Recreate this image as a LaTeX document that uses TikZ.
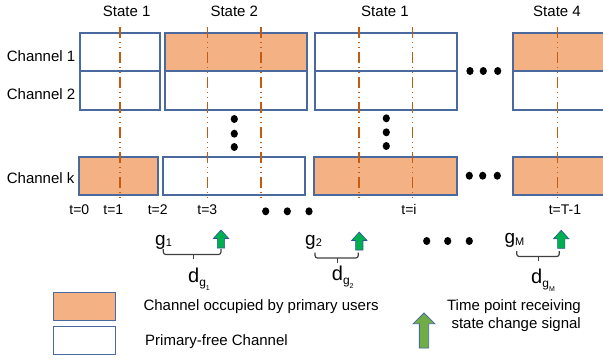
\documentclass[tikz,border=0pt]{standalone}
\usepackage{fontspec}
\setmainfont{Liberation Sans}
\usetikzlibrary{calc}
\definecolor{orangefill}{HTML}{F4B183}
\definecolor{cellframe}{HTML}{4A6A9F}
\definecolor{tickline}{HTML}{C55A11}
\definecolor{siggreen}{HTML}{00B050}
\definecolor{legreen}{HTML}{70AD47}
\definecolor{sigblue}{HTML}{2F5597}
\newcommand{\gsym}[1]{{\fontsize{19}{19}\selectfont g}\raisebox{-1.5pt}{\fontsize{11}{11}\selectfont #1}}
\newcommand{\dsym}[1]{{\fontsize{20}{20}\selectfont d}\raisebox{-4pt}{\fontsize{12}{12}\selectfont g\raisebox{-4pt}{\fontsize{7}{7}\selectfont #1}}}

\begin{document}
\begin{tikzpicture}[x=1pt,y=-1pt,
  cell/.style={draw=cellframe,line width=1.3pt},
  busy/.style={cell,fill=orangefill},
  stateline/.style={draw=tickline,line width=1.1pt,dash pattern=on 11pt off 4pt on 1pt off 4pt on 1pt off 4pt},
  lbl/.style={font=\fontsize{14}{17.5}\selectfont,inner sep=0pt},
  biglbl/.style={font=\fontsize{15}{17.5}\selectfont,inner sep=0pt},
  sym/.style={inner sep=0pt},
  brc/.style={draw=black!75,line width=1.2pt},
  pics/sigarrow/.style n args={4}{code={%
    \draw[pic actions] (-#3/2,0) -- (-#3/2,-#1+#4) -- (-#2/2,-#1+#4) -- (0,-#1)
      -- (#2/2,-#1+#4) -- (#3/2,-#1+#4) -- (#3/2,0) -- cycle;}}]
  \clip (0,0) rectangle (603,360);

  % channel blocks
  \draw[cell] (80,33) rectangle (160,71);
  \draw[cell] (80,71) rectangle (160,110);
  \draw[busy] (79,157) rectangle (158,195);
  \draw[busy] (165,33) rectangle (307,71);
  \draw[cell] (165,71) rectangle (307,110);
  \draw[cell] (163,157) rectangle (305,195);
  \draw[cell] (315,33) rectangle (457,71);
  \draw[cell] (315,71) rectangle (457,110);
  \draw[busy] (314,157) rectangle (457,195);
  \draw[busy] (513,33) rectangle (610,71);
  \draw[cell] (513,71) rectangle (610,110);
  \draw[busy] (513,157) rectangle (610,195);

  % state change lines
  \foreach \x in {120,207.7,261,359,412.3,557.7}
    \draw[stateline] (\x,27) -- (\x,199);

  % ellipsis dots
  \foreach \x/\y in {234.3/119,234.3/133.7,234.3/147,386.3/118.3,386.3/132.3,386.3/146,
      470/71,483.3/71,497.7/71,469.3/175.7,482.7/175.7,497.3/175.7,
      265.7/211.3,287.3/211.3,309/211.3,426.7/241,447.7/241,469.3/241}
    \fill (\x,\y) ellipse (3.6 and 4);

  \node[biglbl] (st1) at (126.7,11) {State 1};
  \node[biglbl] (st2) at (234.3,11) {State 2};
  \node[biglbl] (st3) at (385,11) {State 1};
  \node[biglbl] (st4) at (557,11) {State 4};

  \node[biglbl,anchor=base west] (ch1) at (6.7,61.7) {Channel 1};
  \node[biglbl,anchor=base west] (ch2) at (6.7,99.3) {Channel 2};
  \node[biglbl,anchor=base west] (chk) at (6.7,183.3) {Channel k};

  \node[lbl,anchor=base] (t0) at (79.3,214.3) {t=0};
  \node[lbl,anchor=base] (t1) at (113.3,214.3) {t=1};
  \node[lbl,anchor=base] (t2) at (157.7,214.3) {t=2};
  \node[lbl,anchor=base] (t3) at (207.3,214.3) {t=3};
  \node[lbl,anchor=base] (ti) at (409,214.3) {t=i};
  \node[lbl,anchor=base] (tT) at (565,214.3) {t=T-1};

  % groups and delays
  \node[sym,anchor=base west] (g1) at (155,245) {\gsym{1}};
  \node[sym,anchor=base west] (g2) at (305,245) {\gsym{2}};
  \node[sym,anchor=base west] (gM) at (504.3,243.5) {\gsym{M}};
  \pic[fill=siggreen,draw=sigblue,line width=0.6pt] (a1) at (221,248) {sigarrow={18}{15.5}{7.3}{8.5}};
  \pic[fill=siggreen,draw=sigblue,line width=0.6pt] (a2) at (359.3,250) {sigarrow={18}{15.5}{7.3}{8.5}};
  \pic[fill=siggreen,draw=sigblue,line width=0.6pt] (a3) at (561.2,248.3) {sigarrow={18}{15.5}{7.3}{8.5}};
  \coordinate (b1l) at (163.3,249);
  \coordinate (b1r) at (221,249);
  \coordinate (b2l) at (315,252.5);
  \coordinate (b2r) at (358.3,252.5);
  \coordinate (b3l) at (516.7,251);
  \coordinate (b3r) at (559.3,251);
  \foreach \l/\r in {b1l/b1r,b2l/b2r,b3l/b3r} {
    \draw[brc,rounded corners=2.5pt] (\l) -- ++(0,5.5) -| (\r);
    \draw[brc] ($(\l)!0.52!(\r)+(0,5.5)$) -- ++(0,4.5);
  }
  \node[sym,anchor=base west] (d1) at (188,282) {\dsym{1}};
  \node[sym,anchor=base west] (d2) at (331.7,280) {\dsym{2}};
  \node[sym,anchor=base west] (dM) at (531,283.3) {\dsym{M}};

  % legend
  \draw[busy] (53.3,292.7) rectangle (115.7,320.7);
  \draw[cell] (53.3,326.7) rectangle (115.7,354.3);
  \node[biglbl,anchor=base west] (lbusy) at (143.3,310) {Channel occupied by primary users};
  \node[biglbl,anchor=base west] (lfree) at (145,345.5) {Primary-free Channel};
  \pic[fill=legreen,draw=cellframe,line width=0.8pt] (la) at (424,348) {sigarrow={35}{21.7}{9.3}{10.7}};
  \node[biglbl,anchor=base east,align=right] (lsig) at (581,328) {Time point receiving\\state change signal};
\end{tikzpicture}
\end{document}
